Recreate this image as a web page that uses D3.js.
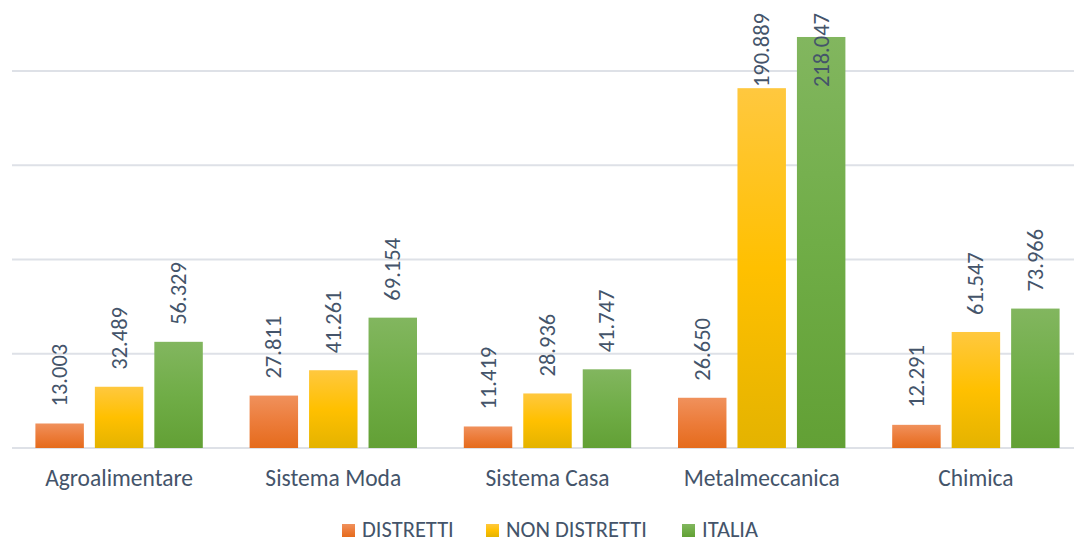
<!DOCTYPE html>
<html>
<head>
<meta charset="utf-8">
<script src="https://cdn.jsdelivr.net/npm/d3@7"></script>
<style>
  html, body { margin: 0; padding: 0; background: #ffffff; }
  svg { display: block; font-family: Carlito, Calibri, "Open Sans", "Liberation Sans", sans-serif; }
</style>
</head>
<body>
<svg id="chart" width="1074" height="542"></svg>
<script>
// Settori produttivi e valori per serie
const categories = ["Agroalimentare", "Sistema Moda", "Sistema Casa", "Metalmeccanica", "Chimica"];
const seriesNames = ["DISTRETTI", "NON DISTRETTI", "ITALIA"];
const distretti    = [13003, 27811, 11419, 26650, 12291];
const nonDistretti = [32489, 41261, 28936, 190889, 61547];
const italia       = [56329, 69154, 41747, 218047, 73966];
const gridTicks    = [0, 50000, 100000, 150000, 200000];

const seriesValues = [distretti, nonDistretti, italia];

const svg = d3.select("#chart");
const plot = { left: 12, right: 1083, top: 71, bottom: 448, gridRight: 1074 };

const textColor = "#44546A";

// gradient fills for each series (light top -> dark bottom)
const gradStops = [
  ["#F0915C", "#EC7C3A", "#E56B1C"],
  ["#FFC83F", "#FFC000", "#E4B300"],
  ["#82B65F", "#70AD47", "#62A035"]
];
const defs = svg.append("defs");
gradStops.forEach((stops, i) => {
  const g = defs.append("linearGradient")
    .attr("id", "grad" + i)
    .attr("x1", 0).attr("y1", 0).attr("x2", 0).attr("y2", 1);
  g.append("stop").attr("offset", "0%").attr("stop-color", stops[0]);
  g.append("stop").attr("offset", "50%").attr("stop-color", stops[1]);
  g.append("stop").attr("offset", "100%").attr("stop-color", stops[2]);
});

const x0 = d3.scaleBand().domain(categories).range([plot.left, plot.right]).padding(0);
const groupPad = 23.4;
const x1 = d3.scaleBand().domain(seriesNames)
  .range([groupPad, x0.bandwidth() - groupPad])
  .paddingInner(0.185).paddingOuter(0);
const y = d3.scaleLinear().domain([0, 200000]).range([plot.bottom, plot.top]);

// horizontal gridlines
svg.append("g").selectAll("line").data(gridTicks).join("line")
  .attr("x1", plot.left).attr("x2", plot.gridRight)
  .attr("y1", d => y(d)).attr("y2", d => y(d))
  .attr("stroke", "#DEE1E7").attr("stroke-width", 2);

const fmt = v => d3.format(",")(v).replace(/,/g, ".");

// bars
const groups = svg.append("g").selectAll("g").data(categories).join("g")
  .attr("transform", d => `translate(${x0(d)},0)`);

const cells = groups.selectAll("g.cell")
  .data((c, ci) => seriesNames.map((s, si) => ({ s, si, v: seriesValues[si][ci] })))
  .join("g").attr("class", "cell");

cells.append("rect")
  .attr("x", d => x1(d.s))
  .attr("width", x1.bandwidth())
  .attr("y", d => y(d.v))
  .attr("height", d => y(0) - y(d.v))
  .attr("fill", d => `url(#grad${d.si})`);

// rotated value labels, kept inside the chart area at the top
const labelSize = 22.5;
cells.append("text")
  .text(d => fmt(d.v))
  .attr("fill", textColor)
  .attr("font-size", labelSize)
  .attr("dominant-baseline", "central")
  .each(function(d) {
    const len = this.getComputedTextLength();
    const cx = x1(d.s) + x1.bandwidth() / 2;
    const anchorY = Math.max(y(d.v) - 17, 13 + len);
    d3.select(this).attr("transform", `translate(${cx},${anchorY}) rotate(-90)`);
  });

// category axis labels
svg.append("g").selectAll("text").data(categories).join("text")
  .attr("x", d => x0(d) + x0.bandwidth() / 2)
  .attr("y", 486)
  .attr("text-anchor", "middle")
  .attr("fill", textColor)
  .attr("font-size", 23.5)
  .text(d => d);

// legend
const legendX = [342, 486, 682];
const legend = svg.append("g").selectAll("g").data(seriesNames).join("g")
  .attr("transform", (d, i) => `translate(${legendX[i]},524)`);
legend.append("rect")
  .attr("width", 13).attr("height", 13)
  .attr("fill", (d, i) => `url(#grad${i})`);
legend.append("text")
  .attr("x", 20).attr("y", 12.5)
  .attr("fill", textColor)
  .attr("font-size", 22.5)
  .text(d => d);
</script>
</body>
</html>
